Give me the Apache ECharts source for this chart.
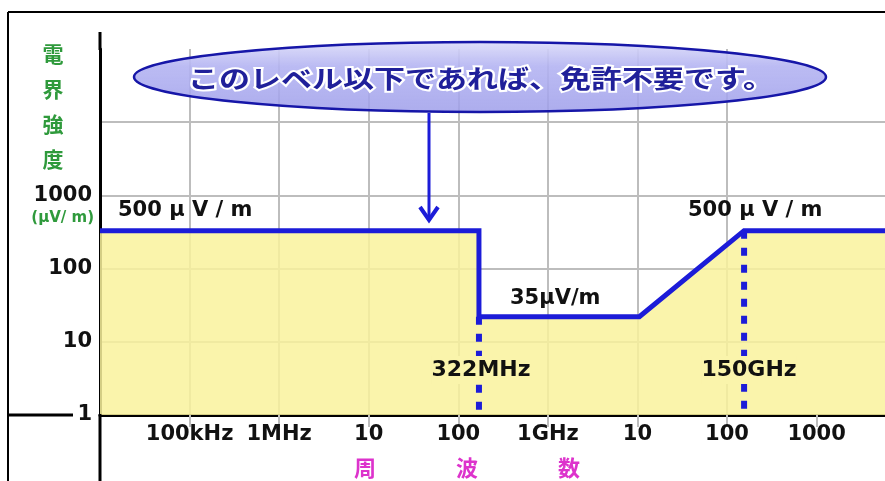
<!DOCTYPE html>
<html>
<head>
<meta charset="utf-8">
<script src="https://cdn.jsdelivr.net/npm/echarts@6/dist/echarts.min.js"></script>
<style>
html,body{margin:0;padding:0;background:#fff;}
#chart{width:885px;height:481px;}
</style>
</head>
<body>
<div id="chart"></div>
<script>
// 周波数 (Hz) と電界強度 (μV/m) - 図から読み取った値
var limitFreq  = [1e4, 1.7e8, 1.7e8, 1.05e10, 1.55e11, 5.8e12];
var limitLevel = [330, 330, 22, 22, 330, 330];
// 境界周波数の点線
var edgeFreq   = [1.7e8, 1.55e11];
var edgeTop    = [22, 330];
var edgeBottom = [1, 1];

var xTickValues = [1e5, 1e6, 1e7, 1e8, 1e9, 1e10, 1e11, 1e12];
var xTickLabels = ['100kHz', '1MHz', '10', '100', '1GHz', '10', '100', '1000'];
var yTickValues = [1, 10, 100, 1000];
var yTickLabels = ['1', '10', '100', '1000'];

var blue = '#1c1cd8';
var labelFont = 'bold 21px "DejaVu Sans"';

function tickText(v, values, labels){
    for(var i=0;i<values.length;i++){
        if(Math.abs(Math.log10(v) - Math.log10(values[i])) < 1e-6){
            return labels[i];
        }
    }
    return '';
}

var limitData = [];
for(var i=0;i<limitFreq.length;i++){
    limitData.push([limitFreq[i], limitLevel[i]]);
}

var series = [{
    type:'line',
    data: limitData,
    symbol:'none',
    z:3,
    lineStyle:{color:blue, width:5, join:'miter'},
    areaStyle:{color:'#f9f29c', opacity:0.85, origin:'start'}
}];
for(var j=0;j<edgeFreq.length;j++){
    series.push({
        type:'line',
        data:[[edgeFreq[j], edgeTop[j]], [edgeFreq[j], edgeBottom[j]]],
        symbol:'none',
        z:4,
        lineStyle:{color:blue, width:6, type:[8,9]}
    });
}

var myChart = echarts.init(document.getElementById('chart'));
myChart.setOption({
    animation:false,
    grid:{
        left:100,
        right:0,
        top:49,
        bottom:66
    },
    xAxis:{
        type:'log',
        min:1e4,
        max:5.8e12,
        axisLine:{show:true, lineStyle:{color:'#000', width:3}},
        axisTick:{show:true, customValues:xTickValues, length:12, lineStyle:{color:'#bdbdbd', width:2}},
        splitLine:{show:true, showMaxLine:false, lineStyle:{color:'#bdbdbd', width:2}},
        axisLabel:{
            show:true,
            customValues:xTickValues,
            margin:9,
            color:'#111',
            fontFamily:'DejaVu Sans',
            fontWeight:'bold',
            fontSize:21,
            formatter:function(v){ return tickText(v, xTickValues, xTickLabels); }
        }
    },
    yAxis:{
        type:'log',
        min:1,
        max:1e5,
        axisLine:{show:true, lineStyle:{color:'#000', width:3}},
        axisTick:{show:false},
        splitLine:{show:true, showMaxLine:false, lineStyle:{color:'#bdbdbd', width:2}},
        axisLabel:{
            show:true,
            margin:8,
            color:'#111',
            fontFamily:'DejaVu Sans',
            fontWeight:'bold',
            fontSize:21,
            formatter:function(v){ return tickText(v, yTickValues, yTickLabels); }
        }
    },
    graphic:[
        // 外枠
        {type:'line', shape:{x1:8, y1:12, x2:885, y2:12}, style:{stroke:'#000', lineWidth:2}, z:20},
        {type:'line', shape:{x1:8, y1:12, x2:8, y2:481}, style:{stroke:'#000', lineWidth:2}, z:20},
        // 軸の延長
        {type:'line', shape:{x1:8, y1:415, x2:73, y2:415}, style:{stroke:'#000', lineWidth:3}, z:20},
        {type:'line', shape:{x1:100, y1:32, x2:100, y2:50}, style:{stroke:'#000', lineWidth:3}, z:20},
        {type:'line', shape:{x1:100, y1:414, x2:100, y2:481}, style:{stroke:'#000', lineWidth:3}, z:20},
        // 縦軸名
        {type:'text', x:53, y:37, z:20, style:{
            text:'電\n界\n強\n度', font:'bold 21px "Noto Sans CJK JP"', lineHeight:35,
            fill:'#2f9a3c', textAlign:'center', textVerticalAlign:'top'
        }},
        {type:'text', x:94, y:218, z:20, style:{
            text:'(μV/ m)', font:'bold 15px "DejaVu Sans"', fill:'#2f9a3c',
            textAlign:'right', textVerticalAlign:'middle'
        }},
        // 横軸名
        {type:'text', x:365, y:468, z:20, style:{text:'周', font:'bold 22px "Noto Sans CJK JP"', fill:'#dd33cc', textAlign:'center', textVerticalAlign:'middle'}},
        {type:'text', x:467, y:468, z:20, style:{text:'波', font:'bold 22px "Noto Sans CJK JP"', fill:'#dd33cc', textAlign:'center', textVerticalAlign:'middle'}},
        {type:'text', x:569, y:468, z:20, style:{text:'数', font:'bold 22px "Noto Sans CJK JP"', fill:'#dd33cc', textAlign:'center', textVerticalAlign:'middle'}},
        // 吹き出し
        {type:'ellipse', z:20, shape:{cx:480, cy:77, rx:346, ry:35}, style:{
            fill:{type:'linear', x:0, y:0, x2:0, y2:1, colorStops:[
                {offset:0, color:'rgba(222,222,250,0.92)'},
                {offset:0.35, color:'rgba(180,180,242,0.9)'},
                {offset:1, color:'rgba(158,158,234,0.85)'}
            ]},
            stroke:'#1616a8', lineWidth:2.5
        }},
        {type:'text', x:481, y:78, scaleX:1.24, z:21, style:{
            text:'このレベル以下であれば、免許不要です。',
            font:'bold 25px "Noto Sans CJK JP"', fill:'#20209a',
            stroke:'#ffffff', lineWidth:4, strokeFirst:true,
            textAlign:'center', textVerticalAlign:'middle'
        }},
        // 矢印
        {type:'polyline', z:21, shape:{points:[[429,113],[429,219]]}, style:{stroke:blue, lineWidth:3, fill:null}},
        {type:'polyline', z:21, shape:{points:[[420,207],[429,220],[438,207]]}, style:{stroke:blue, lineWidth:4, fill:null}},
        // 値のラベル
        {type:'text', x:118, y:211, z:20, style:{text:'500 μ V / m', font:labelFont, fill:'#111', textAlign:'left', textVerticalAlign:'middle'}},
        {type:'text', x:510, y:299, z:20, style:{text:'35μV/m', font:labelFont, fill:'#111', textAlign:'left', textVerticalAlign:'middle'}},
        {type:'text', x:688, y:211, z:20, style:{text:'500 μ V / m', font:labelFont, fill:'#111', textAlign:'left', textVerticalAlign:'middle'}},
        {type:'text', x:481, y:370, z:20, style:{text:'322MHz', font:'bold 22px "DejaVu Sans"', fill:'#111', textAlign:'center', textVerticalAlign:'middle', backgroundColor:'#faf4ab', padding:[3,0,3,0]}},
        {type:'text', x:749, y:370, z:20, style:{text:'150GHz', font:'bold 22px "DejaVu Sans"', fill:'#111', textAlign:'center', textVerticalAlign:'middle', backgroundColor:'#faf4ab', padding:[3,0,3,0]}}
    ],
    series: series
});
</script>
</body>
</html>
